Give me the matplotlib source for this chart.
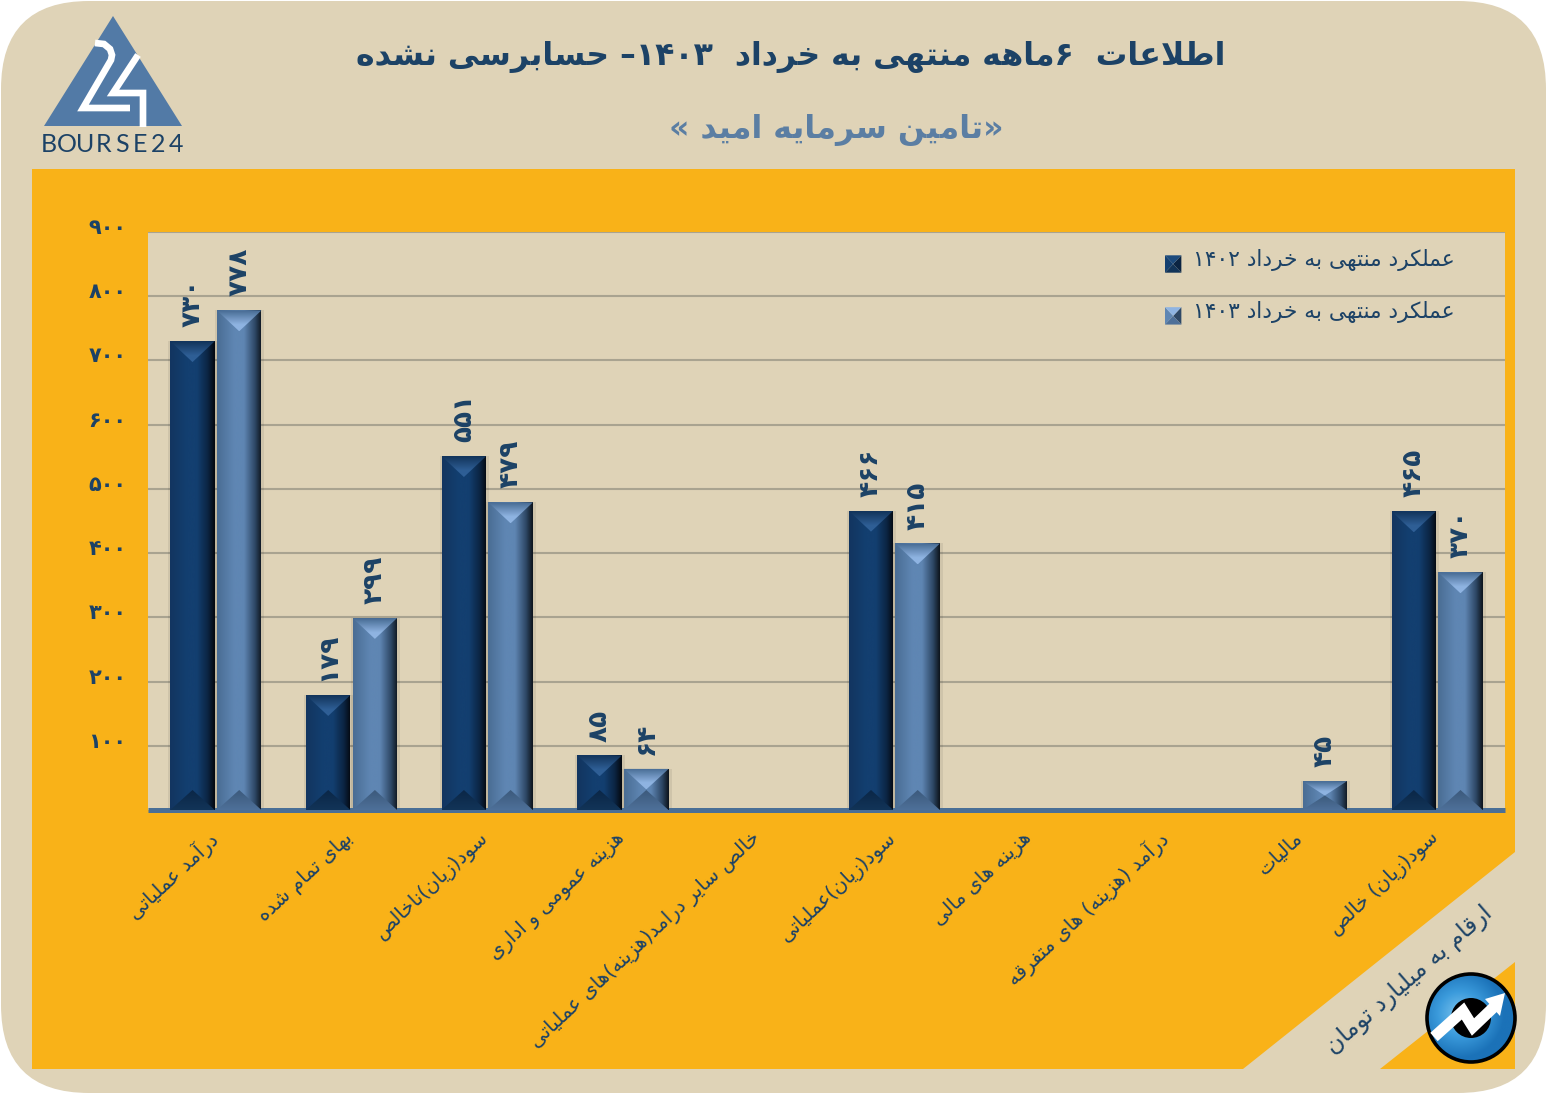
import numpy as np
import matplotlib
matplotlib.use("Agg")
import matplotlib.pyplot as plt
from matplotlib.legend_handler import HandlerBase
from matplotlib.patches import Circle, FancyBboxPatch, Patch, Polygon, Rectangle
from matplotlib.transforms import ScaledTranslation

W, H = 1547, 1094

categories = [
    "درآمد عملیاتی",
    "بهای تمام شده",
    "سود(زیان)ناخالص",
    "هزینه عمومی و اداری",
    "خالص سایر درامد(هزینه)های عملیاتی",
    "سود(زیان)عملیاتی",
    "هزینه های مالی",
    "درآمد (هزینه) های متفرقه",
    "مالیات",
    "سود(زیان) خالص",
]
values_1402 = [730, 179, 551, 85, 0, 466, 0, 0, 0, 465]
values_1403 = [778, 299, 479, 64, 0, 415, 0, 0, 45, 370]
y_ticks = [100, 200, 300, 400, 500, 600, 700, 800, 900]

legend_1402 = "عملکرد منتهی به خرداد ۱۴۰۲"
legend_1403 = "عملکرد منتهی به خرداد ۱۴۰۳"
title = "اطلاعات  ۶ماهه منتهی به خرداد  ۱۴۰۳– حسابرسی نشده"
subtitle = "«تامین سرمایه امید »"
unit_note = "ارقام به میلیارد تومان"

NAVY = "#1c4266"
BEIGE = "#dfd3b7"
ORANGE = "#f9b218"
STEEL = "#5b7ea3"

# colours: left edge, middle, right edge, top facet (edge, apex), bottom facet
dark_pal = dict(left="#123560", mid="#133f70", right="#04080f", side="#0b2442",
                top=("#12335a", "#2f5f96"), bottom=("#0b2747", "#123458"))
light_pal = dict(left="#4a6d94", mid="#5f86b3", right="#0e151d", side="#2e4866",
                 top=("#466a92", "#8fb4e2"), bottom=("#3c5a7c", "#4e7099"))

# matplotlib does no Arabic shaping, so pick the joined glyphs by hand
FORMS = {
    "ا": (0xFE8D, 0xFE8E), "آ": (0xFE81, 0xFE82), "د": (0xFEA9, 0xFEAA),
    "ر": (0xFEAD, 0xFEAE), "ز": (0xFEAF, 0xFEB0), "و": (0xFEED, 0xFEEE),
    "ب": (0xFE8F, 0xFE90, 0xFE91, 0xFE92), "پ": (0xFB56, 0xFB57, 0xFB58, 0xFB59),
    "ت": (0xFE95, 0xFE96, 0xFE97, 0xFE98), "خ": (0xFEA5, 0xFEA6, 0xFEA7, 0xFEA8),
    "ح": (0xFEA1, 0xFEA2, 0xFEA3, 0xFEA4), "ش": (0xFEB5, 0xFEB6, 0xFEB7, 0xFEB8),
    "س": (0xFEB1, 0xFEB2, 0xFEB3, 0xFEB4), "ص": (0xFEB9, 0xFEBA, 0xFEBB, 0xFEBC),
    "ط": (0xFEC1, 0xFEC2, 0xFEC3, 0xFEC4), "ع": (0xFEC9, 0xFECA, 0xFECB, 0xFECC),
    "ف": (0xFED1, 0xFED2, 0xFED3, 0xFED4), "ق": (0xFED5, 0xFED6, 0xFED7, 0xFED8),
    "ک": (0xFB8E, 0xFB8F, 0xFB90, 0xFB91), "ل": (0xFEDD, 0xFEDE, 0xFEDF, 0xFEE0),
    "م": (0xFEE1, 0xFEE2, 0xFEE3, 0xFEE4), "ن": (0xFEE5, 0xFEE6, 0xFEE7, 0xFEE8),
    "ه": (0xFEE9, 0xFEEA, 0xFEEB, 0xFEEC), "ی": (0xFBFC, 0xFBFD, 0xFBFE, 0xFBFF),
}
LAM_ALEF = {"ا": (0xFEFB, 0xFEFC), "آ": (0xFEF5, 0xFEF6)}
PERSIAN_DIGITS = "۰۱۲۳۴۵۶۷۸۹"
SWAP = {"(": ")", ")": "(", "«": "»", "»": "«"}


def fa(text):
    glyphs = []
    i = 0
    while i < len(text):
        c = text[i]
        prev_joins = i > 0 and len(FORMS.get(text[i - 1], ())) == 4
        nxt = text[i + 1] if i + 1 < len(text) else ""
        if c == "ل" and nxt in LAM_ALEF:
            glyphs.append(chr(LAM_ALEF[nxt][1 if prev_joins else 0]))
            i += 2
            continue
        if c in FORMS:
            forms = FORMS[c]
            next_joins = nxt in FORMS
            if len(forms) == 2:
                glyphs.append(chr(forms[1 if prev_joins else 0]))
            elif prev_joins and next_joins:
                glyphs.append(chr(forms[3]))
            elif prev_joins:
                glyphs.append(chr(forms[1]))
            elif next_joins:
                glyphs.append(chr(forms[2]))
            else:
                glyphs.append(chr(forms[0]))
        else:
            glyphs.append(SWAP.get(c, c))
        i += 1
    # visual order, digit runs stay left to right
    out = []
    run = []
    for g in reversed(glyphs):
        if g in PERSIAN_DIGITS:
            run.append(g)
        else:
            out.extend(reversed(run))
            run = []
            out.append(g)
    out.extend(reversed(run))
    return "".join(out)


def fa_num(n):
    return "".join(PERSIAN_DIGITS[int(d)] for d in str(n))


def px(x0, y_top, x1, y_bottom):
    return [x0 / W, 1 - y_bottom / H, (x1 - x0) / W, (y_bottom - y_top) / H]


def gradient_fill(ax, array, extent, clip):
    im = ax.imshow(array, extent=extent, aspect="auto", zorder=3,
                   interpolation="bicubic", origin="upper")
    im.set_clip_path(clip)


def to_rgb_array(colors, stops, n=64, vertical=False):
    rgb = np.array([matplotlib.colors.to_rgb(c) for c in colors])
    t = np.linspace(0, 1, n)
    line = np.stack([np.interp(t, stops, rgb[:, k]) for k in range(3)], axis=-1)
    return line[:, None, :] if vertical else line[None, :, :]


def bevel_bar(ax, bar, pal, x_per_px, y_per_px):
    x0, x1 = bar.get_x(), bar.get_x() + bar.get_width()
    y1 = bar.get_height()
    if y1 <= 0:
        return
    xm = (x0 + x1) / 2
    px_w = (x1 - x0) / x_per_px
    depth = min(px_w * 0.47, (y1 / y_per_px) * 0.5) * y_per_px

    # faint shadow on the sides only
    ax.add_patch(Rectangle((x0 - 2 * x_per_px, 0), x1 - x0 + 5 * x_per_px, y1,
                           facecolor="black", alpha=0.07, edgecolor="none", zorder=1.5))

    body = Polygon([(x0, 0), (x1, 0), (x1, y1), (x0, y1)], transform=ax.transData)
    gradient_fill(ax, to_rgb_array([pal["left"], pal["mid"], pal["mid"], pal["side"], pal["right"]],
                                   [0, 0.38, 0.6, 0.85, 1]),
                  (x0, x1, 0, y1), body)

    top = Polygon([(x0, y1), (x1, y1), (xm, y1 - depth)], transform=ax.transData)
    gradient_fill(ax, to_rgb_array([pal["top"][0], pal["top"][1], pal["top"][1]], [0, 0.7, 1],
                                   vertical=True),
                  (x0, x1, y1 - depth, y1), top)

    low = min(depth, 20 * y_per_px)
    bottom = Polygon([(x0, 0), (x1, 0), (xm, low)], transform=ax.transData)
    gradient_fill(ax, to_rgb_array(pal["bottom"], [0, 1], vertical=True),
                  (x0, x1, 0, low), bottom)


class BevelHandler(HandlerBase):
    def __init__(self, pal):
        super().__init__()
        self.pal = pal

    def create_artists(self, legend, orig_handle, xdescent, ydescent, width, height,
                       fontsize, trans):
        x0, x1 = -xdescent, width - xdescent
        y0, y1 = -ydescent - 4, height - ydescent - 4
        xm, ym = (x0 + x1) / 2, (y0 + y1) / 2
        p = self.pal
        facets = [
            ([(x0, y0), (x0, y1), (xm, ym)], p["mid"]),
            ([(x1, y0), (x1, y1), (xm, ym)], p["side"]),
            ([(x0, y1), (x1, y1), (xm, ym)], p["top"][1] if p is light_pal else "#1c4a7c"),
            ([(x0, y0), (x1, y0), (xm, ym)], p["bottom"][1]),
        ]
        return [Polygon(pts, facecolor=c, edgecolor="none", transform=trans)
                for pts, c in facets]


plt.rcParams["font.family"] = ["DejaVu Sans"]

fig = plt.figure(figsize=(W / 100, H / 100), dpi=100, facecolor="white")

# background layer in picture pixels
bg = fig.add_axes([0, 0, 1, 1], zorder=0)
bg.set_xlim(0, W)
bg.set_ylim(H, 0)
bg.axis("off")
bg.add_patch(FancyBboxPatch((85, 85), W - 170, H - 170,
                            boxstyle="round,pad=84,rounding_size=88",
                            facecolor=BEIGE, edgecolor="none"))
bg.add_patch(Polygon([(32, 169), (1515, 169), (1515, 852), (1243, 1069), (32, 1069)],
                     facecolor=ORANGE, edgecolor="none"))
bg.add_patch(Polygon([(1515, 962), (1515, 1069), (1380, 1069)],
                     facecolor=ORANGE, edgecolor="none"))

# bourse24 logo
bg.add_patch(Polygon([(113, 16), (182, 126), (44, 126)], facecolor="#527aa6", edgecolor="none"))
bg.plot([95, 104, 110, 112, 111, 83, 130], [43, 44, 49, 55, 60, 108, 108], color="white", lw=4.8,
        solid_joinstyle="miter", solid_capstyle="butt")
bg.plot([138, 113, 143, 143], [55, 93, 93, 127], color="white", lw=4.8,
        solid_joinstyle="miter", solid_capstyle="butt")
for k, ch in enumerate("BOURSE24"):
    bg.text(49 + k * 18.2, 144, ch, fontsize=18, color=NAVY, ha="center", va="center",
            family="Lato")

bg.text(791, 57, fa(title), fontsize=22.7, fontweight="bold", color=NAVY,
        ha="center", va="center")
bg.text(836, 130, fa(subtitle), fontsize=22.8, fontweight="bold", color=STEEL,
        ha="center", va="center")
bg.text(1409, 980, fa(unit_note), fontsize=17, color=NAVY, rotation=41,
        ha="center", va="center", rotation_mode="anchor")

# round badge
cx, cy, r = 1471, 1018, 44
yy, xx = np.mgrid[-1:1:200j, -1:1:200j]
rad = np.clip(np.hypot(xx + 0.25, yy + 0.1), 0, 1)
badge = to_rgb_array(["#7cc4ee", "#3b9bdc", "#1b72b8"], [0, 0.5, 1], n=256)[0][(rad * 255).astype(int)]
im = bg.imshow(badge, extent=(cx - r, cx + r, cy + r, cy - r), aspect="auto", zorder=3)
edge = Circle((cx, cy), r, transform=bg.transData)
im.set_clip_path(edge)
bg.add_patch(Circle((cx, cy), r, facecolor="none", edgecolor="black", lw=2.6, zorder=4))
bg.add_patch(Circle((cx, cy), 20, facecolor="black", edgecolor="none", zorder=4))
bg.plot([1434, 1463, 1473, 1495], [1037, 1011, 1027, 1006], color="white", lw=8,
        solid_joinstyle="miter", solid_capstyle="butt", zorder=5)
bg.add_patch(Polygon([(1505, 993), (1500, 1016), (1485, 999)], facecolor="white",
                     edgecolor="none", zorder=5))
bg.set_xlim(0, W)
bg.set_ylim(H, 0)

# chart
ax = fig.add_axes(px(148, 232, 1505, 810), zorder=1)
ax.set_facecolor(BEIGE)
x = np.arange(len(categories))
bar_w = 0.328
gap = 0.008
bars_a = ax.bar(x - bar_w / 2 - gap, values_1402, bar_w, color="#133f70", zorder=2)
bars_b = ax.bar(x + bar_w / 2 + gap, values_1403, bar_w, color="#6289b6", zorder=2)

ax.set_xlim(-0.5, len(categories) - 0.5)
ax.set_ylim(0, 900)
x_per_px = len(categories) / (1505 - 148)
y_per_px = 900 / (810 - 232)
for b in bars_a:
    bevel_bar(ax, b, dark_pal, x_per_px, y_per_px)
for b in bars_b:
    bevel_bar(ax, b, light_pal, x_per_px, y_per_px)
ax.set_xlim(-0.5, len(categories) - 0.5)
ax.set_ylim(0, 900)

for container, vals in [(bars_a, values_1402), (bars_b, values_1403)]:
    labels = [fa_num(v) if v > 0 else "" for v in vals]
    ax.bar_label(container, labels=labels, rotation=90, padding=10, fontsize=19,
                 fontweight="bold", color=NAVY, zorder=5)

ax.set_yticks(y_ticks)
ax.set_yticklabels([fa_num(v) for v in y_ticks], fontsize=15, fontweight="bold", color=NAVY)
ax.tick_params(axis="y", length=0, pad=15.5)
y_shift = ScaledTranslation(0, 6 / 100, fig.dpi_scale_trans)
for lab in ax.get_yticklabels():
    lab.set_transform(lab.get_transform() + y_shift)

ax.set_xticks(x)
ax.set_xticklabels([fa(c) for c in categories], rotation=43, ha="right", va="top",
                   rotation_mode="anchor", fontsize=14.2, color=NAVY)
ax.tick_params(axis="x", length=0, pad=13)
x_shift = ScaledTranslation(-8 / 100, 0, fig.dpi_scale_trans)
for lab in ax.get_xticklabels():
    lab.set_transform(lab.get_transform() + x_shift)

ax.grid(axis="y", color="#a9a390", lw=1.5, zorder=1)
ax.set_axisbelow(True)
for side in ["top", "left", "right"]:
    ax.spines[side].set_visible(False)
ax.spines["bottom"].set_color("#4a6f96")
ax.spines["bottom"].set_linewidth(3.6)
ax.spines["bottom"].set_capstyle("butt")

h1 = Patch(label=fa(legend_1402))
h2 = Patch(label=fa(legend_1403))
ax.legend(handles=[h1, h2], handler_map={h1: BevelHandler(dark_pal), h2: BevelHandler(light_pal)},
          loc="upper left", bbox_to_anchor=((1165 - 148) / (1505 - 148), 1 - 17 / 578),
          frameon=False, fontsize=15.7, labelcolor=NAVY, handlelength=0.75, handleheight=0.85,
          handletextpad=0.55, labelspacing=1.37, borderpad=0, borderaxespad=0)

fig.savefig("out.png", dpi=100, facecolor="white")
